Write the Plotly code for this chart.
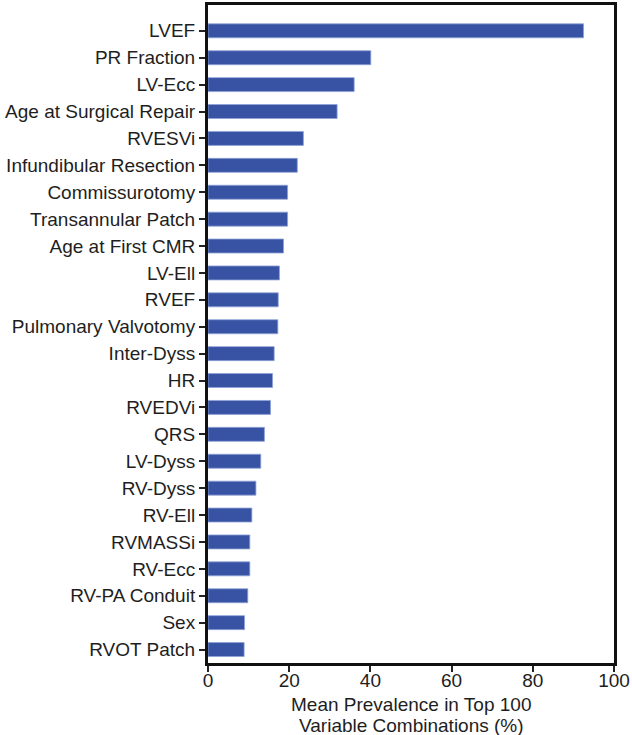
import plotly.graph_objects as go

categories = ["LVEF", "PR Fraction", "LV-Ecc", "Age at Surgical Repair", "RVESVi",
              "Infundibular Resection", "Commissurotomy", "Transannular Patch",
              "Age at First CMR", "LV-Ell", "RVEF", "Pulmonary Valvotomy", "Inter-Dyss",
              "HR", "RVEDVi", "QRS", "LV-Dyss", "RV-Dyss", "RV-Ell", "RVMASSi", "RV-Ecc",
              "RV-PA Conduit", "Sex", "RVOT Patch"]
values = [92.5, 40.1, 36.0, 31.8, 23.5, 22.0, 19.6, 19.6, 18.6, 17.6, 17.3, 17.2, 16.3,
          15.9, 15.4, 13.9, 13.0, 11.8, 10.8, 10.3, 10.3, 9.8, 9.0, 8.9]
x_ticks = [0, 20, 40, 60, 80, 100]
x_title_lines = ["Mean Prevalence in Top 100", "Variable Combinations (%)"]

font_color = "#1e1e1e"
fig = go.Figure(go.Bar(
    x=values, y=categories, orientation="h", width=0.52,
    marker=dict(color="#3853a4", line=dict(color="#8fa3d8", width=0.8)),
))

fig.update_layout(
    width=632, height=735,
    margin=dict(l=208, r=15.5, t=2, b=71.5),
    plot_bgcolor="white", paper_bgcolor="white",
    font=dict(family="Liberation Sans, Arial, sans-serif", size=19, color=font_color),
    showlegend=False,
)
fig.update_xaxes(
    range=[0, 100], tickvals=x_ticks, ticks="outside", ticklen=6, tickwidth=1.5,
    tickcolor="#222", showgrid=False, zeroline=False,
    showline=True, linewidth=3, linecolor="#111", mirror=True,
    tickfont=dict(size=19), ticklabelstandoff=-8,
)
fig.update_yaxes(
    categoryorder="array", categoryarray=categories,
    range=[23.5, -0.96], ticks="outside", ticklen=6, tickwidth=1.5,
    tickcolor="#222", showgrid=False, zeroline=False,
    showline=True, linewidth=3, linecolor="#111", mirror=True,
    tickfont=dict(size=19),
)
for line, shift in zip(x_title_lines, [-41, -62]):
    fig.add_annotation(text=line, xref="paper", yref="paper", x=0.5, y=0,
                       xanchor="center", yanchor="middle", yshift=shift,
                       showarrow=False, font=dict(size=19, color=font_color))

fig.write_html("out.html", config={"displayModeBar": False},
               post_script="document.body.style.margin='0';document.body.style.overflow='hidden';")
